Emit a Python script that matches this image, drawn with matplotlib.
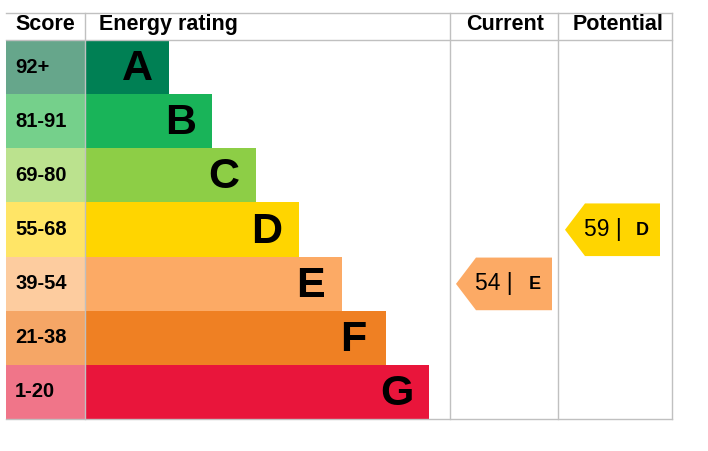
import matplotlib
matplotlib.use("Agg")
import matplotlib.pyplot as plt
from matplotlib.patches import Rectangle, Polygon

plt.rcParams['font.family'] = ['Liberation Sans', 'DejaVu Sans']

ratings = ["A", "B", "C", "D", "E", "F", "G"]
score_labels = ["92+", "81-91", "69-80", "55-68", "39-54", "21-38", "1-20"]
score_lows = [92, 81, 69, 55, 39, 21, 1]
bar_colors = ["#008054", "#19b459", "#8dce46", "#ffd500", "#fcaa65", "#ef8023", "#e9153b"]
score_colors = ["#66a68b", "#75d08b", "#bbe28e", "#ffe566", "#fdcc9f", "#f5a666", "#f07589"]
headers = ["Score", "Energy rating", "Current", "Potential"]
current_score = 54
potential_score = 59

W, H = 708, 451
fig = plt.figure(figsize=(W / 100, H / 100), dpi=100)
ax = fig.add_axes([0, 0, 1, 1])
ax.set_xlim(0, W)
ax.set_ylim(H, 0)
ax.axis("off")

left, right = 6, 672
top, head_bot, bottom = 13, 40, 419
col_score, col_cur, col_pot = 85, 450, 558
row_h = (bottom - head_bot) / len(ratings)
bar_start_len = 84
bar_step = 43.3
grid = "#c0c0c0"

# grid lines
ax.plot([left, right], [top, top], color=grid, lw=1)
ax.plot([left, right], [head_bot, head_bot], color=grid, lw=1)
ax.plot([left, right], [bottom, bottom], color=grid, lw=1)
for x in [col_score, col_cur, col_pot, right]:
    ax.plot([x, x], [top, bottom], color=grid, lw=1)

# headers
hy = top + 11.5
hfs = 15.5
ax.text(left + 9, hy, headers[0], fontsize=hfs, fontweight="bold", va="center", ha="left")
ax.text(col_score + 14, hy, headers[1], fontsize=hfs, fontweight="bold", va="center", ha="left")
ax.text((col_cur + col_pot) / 2 + 1, hy, headers[2], fontsize=hfs, fontweight="bold", va="center", ha="center")
ax.text((col_pot + right) / 2 + 3, hy, headers[3], fontsize=hfs, fontweight="bold", va="center", ha="center")

for i, (r, s, bc, sc) in enumerate(zip(ratings, score_labels, bar_colors, score_colors)):
    y0 = head_bot + i * row_h
    ax.add_patch(Rectangle((left, y0), col_score - left, row_h, facecolor=sc, edgecolor="none"))
    end = col_score + bar_start_len + i * bar_step
    ax.add_patch(Rectangle((col_score, y0), end - col_score, row_h, facecolor=bc, edgecolor="none"))
    ax.text(left + 9, y0 + row_h / 2, s, fontsize=14.5, fontweight="bold", va="center", ha="left")
    ax.text(end - 32, y0 + row_h / 2 + 2, r, fontsize=31, fontweight="bold", va="center", ha="center")


def band_index(score):
    for i, lo in enumerate(score_lows):
        if score >= lo:
            return i
    return len(score_lows) - 1


def draw_arrow(score, x_left, x_right):
    i = band_index(score)
    y0 = head_bot + i * row_h + 1
    y1 = y0 + row_h - 1.5
    ym = (y0 + y1) / 2
    tip = 20
    poly = Polygon([(x_left, ym), (x_left + tip, y0), (x_right, y0), (x_right, y1), (x_left + tip, y1)],
                   closed=True, facecolor=bar_colors[i], edgecolor="none")
    ax.add_patch(poly)
    ax.text(x_left + 19, ym, f"{score} |", fontsize=16.5, va="center", ha="left")
    ax.text(x_right - 11, ym + 1, ratings[i], fontsize=13, fontweight="bold", va="center", ha="right")


draw_arrow(current_score, 456, 552)
draw_arrow(potential_score, 565, 660)

fig.savefig("out.png", dpi=100)
